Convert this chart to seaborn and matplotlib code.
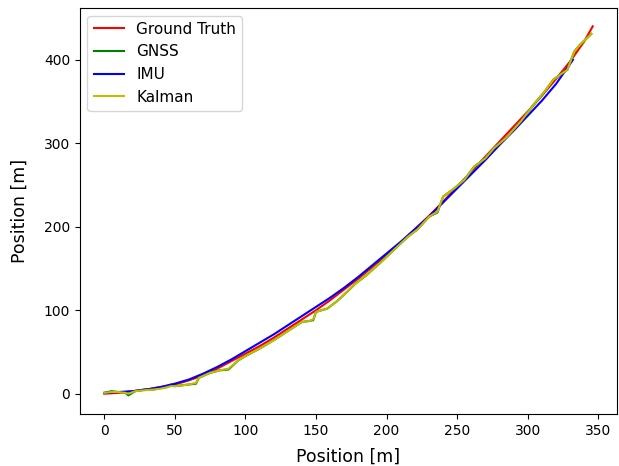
import numpy as np
import pandas as pd
import seaborn as sns
import matplotlib
matplotlib.use("Agg")
import matplotlib.pyplot as plt

# Ground truth trajectory
gt_x = [0, 10, 20, 30, 40, 50, 60, 70, 80, 90, 100, 110, 120, 130, 140, 150, 160, 170, 180, 190,
        200, 210, 220, 230, 240, 250, 260, 270, 280, 290, 300, 310, 320, 330, 340, 346]
gt_y = [0, 1, 3, 5, 8, 11, 16, 22, 30, 39, 48, 57, 67, 78, 89, 100, 112, 125, 138, 152,
        166, 181, 197, 213, 230, 248, 266, 284, 302, 320, 338, 357, 377, 398, 422, 440]

# IMU dead reckoning
imu_x = [0, 10, 20, 30, 40, 50, 60, 70, 80, 90, 100, 110, 120, 130, 140, 150, 160, 170, 180, 190,
         200, 210, 220, 230, 240, 250, 260, 270, 280, 290, 300, 310, 320, 332]
imu_y = [1, 2, 3, 5, 8, 12, 17, 24, 32, 41, 51, 61, 71, 82, 93, 104, 115, 127, 140, 154,
         168, 182, 197, 212, 229, 246, 263, 280, 298, 315, 333, 351, 371, 400]

# GNSS measurements
gnss_x = [0, 5, 10, 15, 17, 22, 28, 35, 40, 45, 47, 50, 55, 60, 65, 67, 75, 82, 88, 95,
          100, 110, 120, 130, 140, 145, 148, 150, 158, 165, 172, 178, 185, 195, 205, 215,
          222, 230, 236, 240, 248, 255, 262, 270, 276, 285, 295, 305, 312, 318, 322, 328,
          333, 337, 345]
gnss_y = [1, 3, 2, 1, -2, 3, 5, 5, 7, 8, 11, 9, 10, 11, 12, 19, 25, 28, 29, 40,
          45, 54, 64, 75, 86, 87, 88, 98, 102, 111, 122, 132, 141, 156, 172, 188,
          197, 212, 217, 236, 246, 256, 272, 282, 294, 307, 326, 348, 362, 376, 381, 388,
          410, 418, 431]

# Kalman filter estimate
kal_x = [0, 5, 10, 15, 17, 22, 28, 35, 40, 45, 47, 50, 55, 60, 65, 67, 75, 82, 88, 95,
         100, 110, 120, 130, 140, 145, 148, 150, 158, 165, 172, 178, 185, 195, 205, 215,
         222, 230, 236, 240, 248, 255, 262, 270, 276, 285, 295, 305, 312, 318, 322, 328,
         333, 337, 345]
kal_y = [1, 2, 2, 1, 0, 3, 4, 5, 6, 8, 9, 9, 10, 11, 13, 19, 25, 28, 30, 40,
         45, 54, 64, 75, 86, 87, 89, 98, 102, 111, 122, 132, 141, 156, 172, 188,
         197, 212, 218, 236, 246, 256, 272, 282, 294, 307, 326, 348, 362, 376, 381, 388,
         410, 418, 431]

fig, ax = plt.subplots(figsize=(6.19, 4.66), dpi=100)
fig.subplots_adjust(left=0.129, right=0.997, top=0.983, bottom=0.112)

sns.lineplot(x=gt_x, y=gt_y, ax=ax, color="r", label="Ground Truth", sort=False, estimator=None)
sns.lineplot(x=gnss_x, y=gnss_y, ax=ax, color="g", label="GNSS", sort=False, estimator=None)
sns.lineplot(x=imu_x, y=imu_y, ax=ax, color="b", label="IMU", sort=False, estimator=None)
sns.lineplot(x=kal_x, y=kal_y, ax=ax, color="y", label="Kalman", sort=False, estimator=None)

ax.set_xlabel("Position [m]", fontsize=12.5, labelpad=7)
ax.set_ylabel("Position [m]", fontsize=12.5, labelpad=11)
ax.legend(loc="upper left", fontsize=11)

fig.savefig("out.png", dpi=100)
